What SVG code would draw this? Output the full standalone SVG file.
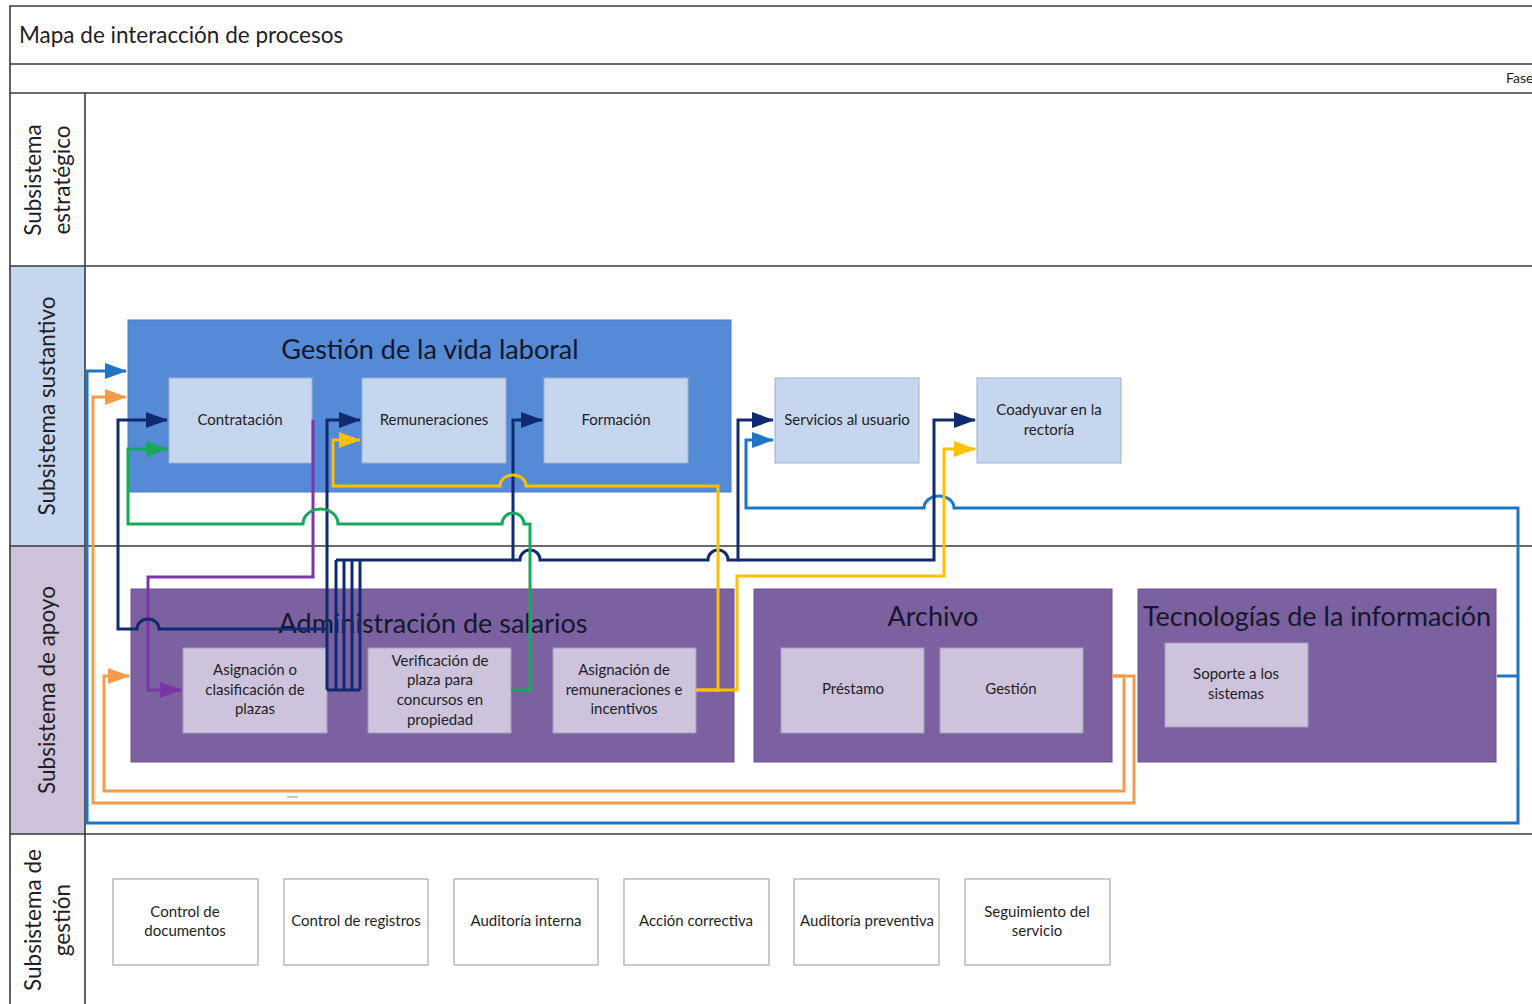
<svg xmlns="http://www.w3.org/2000/svg" width="1532" height="1004" viewBox="0 0 1532 1004">
<style>
text{font-family:Lato,"Noto Sans","Liberation Sans",sans-serif;fill:#1e1e24}
.frame{stroke:#3a3a3a;stroke-width:1.6;fill:none}
.lane{font-size:22.5px}
.big{font-size:27px;text-anchor:middle;fill:#15172a}
.t{font-size:15px;text-anchor:middle}
.bb{fill:#558ad6;stroke:#4a7cc4;stroke-width:1}
.sb{fill:#c5d6ee;stroke:#9bb0cc;stroke-width:1}
.pb{fill:#7b61a0;stroke:#6a5190;stroke-width:1}
.ps{fill:#cdc3dd;stroke:#a99cbf;stroke-width:1}
.wb{fill:#fff;stroke:#a8a8a8;stroke-width:1.2}
.c{fill:none;stroke-width:3;stroke-linejoin:miter}
.blue{stroke:#1f74c4}.orange{stroke:#f59b4c}.navy{stroke:#0f2a6e}.yellow{stroke:#ffc000}.green{stroke:#18a85c}.purple{stroke:#7a36a8}
</style>
<defs>
<marker id="a-blue" markerUnits="userSpaceOnUse" markerWidth="22" markerHeight="16" refX="21" refY="8" orient="auto"><path d="M0,0 L22,8 L0,16 z" fill="#1f74c4"/></marker>
<marker id="a-orange" markerUnits="userSpaceOnUse" markerWidth="22" markerHeight="16" refX="21" refY="8" orient="auto"><path d="M0,0 L22,8 L0,16 z" fill="#f59b4c"/></marker>
<marker id="a-navy" markerUnits="userSpaceOnUse" markerWidth="22" markerHeight="16" refX="21" refY="8" orient="auto"><path d="M0,0 L22,8 L0,16 z" fill="#0f2a6e"/></marker>
<marker id="a-yellow" markerUnits="userSpaceOnUse" markerWidth="22" markerHeight="16" refX="21" refY="8" orient="auto"><path d="M0,0 L22,8 L0,16 z" fill="#ffc000"/></marker>
<marker id="a-green" markerUnits="userSpaceOnUse" markerWidth="22" markerHeight="16" refX="21" refY="8" orient="auto"><path d="M0,0 L22,8 L0,16 z" fill="#18a85c"/></marker>
<marker id="a-purple" markerUnits="userSpaceOnUse" markerWidth="22" markerHeight="16" refX="21" refY="8" orient="auto"><path d="M0,0 L22,8 L0,16 z" fill="#7a36a8"/></marker>
</defs>
<rect width="1532" height="1004" fill="#fff"/>
<g id="frame">
<rect x="10" y="266" width="75" height="280" fill="#c6d6ee"/>
<rect x="10" y="546" width="75" height="288" fill="#cdc2da"/>
<path class="frame" d="M10,1004 V6 H1532 M10,64 H1532 M10,93 H1532 M10,266 H1532 M10,546 H1532 M10,834 H1532 M85,93 V1004"/>
<text x="19" y="43" style="font-size:22.5px">Mapa de interacción de procesos</text>
<text x="1506" y="83" style="font-size:14px">Fase</text>
<g transform="translate(47,180) rotate(-90)"><text class="lane" text-anchor="middle" y="-6">Subsistema</text><text class="lane" text-anchor="middle" y="23">estratégico</text></g>
<g transform="translate(47,406) rotate(-90)"><text class="lane" text-anchor="middle" y="8">Subsistema sustantivo</text></g>
<g transform="translate(47,690) rotate(-90)"><text class="lane" text-anchor="middle" y="8">Subsistema de apoyo</text></g>
<g transform="translate(47,920) rotate(-90)"><text class="lane" text-anchor="middle" y="-6">Subsistema de</text><text class="lane" text-anchor="middle" y="23">gestión</text></g>
</g>
<g id="gestion-vida-laboral"><rect class="bb" x="128" y="320" width="603" height="172"/><text class="big" x="430" y="359">Gestión de la vida laboral</text></g>
<g id="contratacion"><rect class="sb" x="169" y="378" width="143" height="85"/><text class="t" x="240" y="425">Contratación</text></g>
<g id="remuneraciones"><rect class="sb" x="362" y="378" width="144" height="85"/><text class="t" x="434" y="425">Remuneraciones</text></g>
<g id="formacion"><rect class="sb" x="544" y="378" width="144" height="85"/><text class="t" x="616" y="425">Formación</text></g>
<g id="servicios"><rect class="sb" x="775" y="378" width="144" height="85"/><text class="t" x="847" y="425">Servicios al usuario</text></g>
<g id="coadyuvar"><rect class="sb" x="977" y="378" width="144" height="85"/><text class="t" x="1049" y="415">Coadyuvar en la</text><text class="t" x="1049" y="435">rectoría</text></g>
<g id="admin-salarios"><rect class="pb" x="131" y="589" width="603" height="173"/><text class="big" x="433" y="633">Administración de salarios</text></g>
<g id="asignacion-plazas"><rect class="ps" x="183" y="648" width="144" height="85"/><text class="t" x="255" y="675">Asignación o</text><text class="t" x="255" y="695">clasificación de</text><text class="t" x="255" y="714">plazas</text></g>
<g id="verificacion"><rect class="ps" x="368" y="648" width="143" height="85"/><text class="t" x="440" y="666">Verificación de</text><text class="t" x="440" y="685">plaza para</text><text class="t" x="440" y="705">concursos en</text><text class="t" x="440" y="725">propiedad</text></g>
<g id="asignacion-remuneraciones"><rect class="ps" x="553" y="648" width="143" height="85"/><text class="t" x="624" y="675">Asignación de</text><text class="t" x="624" y="695">remuneraciones e</text><text class="t" x="624" y="714">incentivos</text></g>
<g id="archivo"><rect class="pb" x="754" y="589" width="358" height="173"/><text class="big" x="933" y="626">Archivo</text></g>
<g id="prestamo"><rect class="ps" x="781" y="648" width="143" height="85"/><text class="t" x="853" y="694">Préstamo</text></g>
<g id="gestion"><rect class="ps" x="940" y="648" width="143" height="85"/><text class="t" x="1011" y="694">Gestión</text></g>
<g id="tecnologias"><rect class="pb" x="1138" y="589" width="358" height="173"/><text class="big" x="1317" y="626">Tecnologías de la información</text></g>
<g id="soporte"><rect class="ps" x="1165" y="643" width="143" height="84"/><text class="t" x="1236" y="679">Soporte a los</text><text class="t" x="1236" y="699">sistemas</text></g>
<g id="control-documentos"><rect class="wb" x="113" y="879" width="145" height="86"/><text class="t" x="185" y="917">Control de</text><text class="t" x="185" y="936">documentos</text></g>
<g id="control-registros"><rect class="wb" x="284" y="879" width="144" height="86"/><text class="t" x="356" y="926">Control de registros</text></g>
<g id="auditoria-interna"><rect class="wb" x="454" y="879" width="144" height="86"/><text class="t" x="526" y="926">Auditoría interna</text></g>
<g id="accion-correctiva"><rect class="wb" x="624" y="879" width="145" height="86"/><text class="t" x="696" y="926">Acción correctiva</text></g>
<g id="auditoria-preventiva"><rect class="wb" x="794" y="879" width="145" height="86"/><text class="t" x="867" y="926">Auditoría preventiva</text></g>
<g id="seguimiento"><rect class="wb" x="965" y="879" width="145" height="86"/><text class="t" x="1037" y="917">Seguimiento del</text><text class="t" x="1037" y="936">servicio</text></g>
<g id="connectors">
<path class="c blue" d="M1497,676 H1518 V508 H954 a15,12 0 0 0 -30,0 H746 V440 H773" marker-end="url(#a-blue)"/>
<path class="c blue" d="M1518,676 V823 H87 V371 H126" marker-end="url(#a-blue)"/>
<path class="c orange" d="M1112,676 H1134 V803 H93 V397 H126" marker-end="url(#a-orange)"/>
<path class="c orange" d="M1112,676 H1124 V791 H104 V676 H129" marker-end="url(#a-orange)"/>
<path class="c purple" d="M313,420 V577 H148 V690 H181" marker-end="url(#a-purple)"/>
<path class="c navy" d="M327,629 H159 a11,10 0 0 0 -22,0 H118 V420 H167" marker-end="url(#a-navy)"/>
<path class="c navy" d="M327,690 V420 H360" marker-end="url(#a-navy)"/>
<path class="c navy" d="M327,690 H360 M336,690 V560 M344,690 V560 M352,690 V560 M360,690 V560"/>
<path class="c navy" d="M336,560 H513 V420 H542" marker-end="url(#a-navy)"/>
<path class="c navy" d="M513,560 H520 a10,10 0 0 1 20,0 H708 a10,10 0 0 1 20,0 H738 V420 H773" marker-end="url(#a-navy)"/>
<path class="c navy" d="M738,560 H934 V420 H975" marker-end="url(#a-navy)"/>
<path class="c yellow" d="M696,690 H737 V576 H944 V449 H975" marker-end="url(#a-yellow)"/>
<path class="c yellow" d="M696,690 H718 V486 H526 a13,11 0 0 0 -26,0 H333 V440 H360" marker-end="url(#a-yellow)"/>
<path class="c green" d="M511,690 H530 V524 H524 a11,11 0 0 0 -22,0 H338 a17.5,15 0 0 0 -35,0 H128 V449 H167" marker-end="url(#a-green)"/>
<path d="M287,797 H298" stroke="#b0b0b0" stroke-width="1.5"/>
</g>
</svg>
